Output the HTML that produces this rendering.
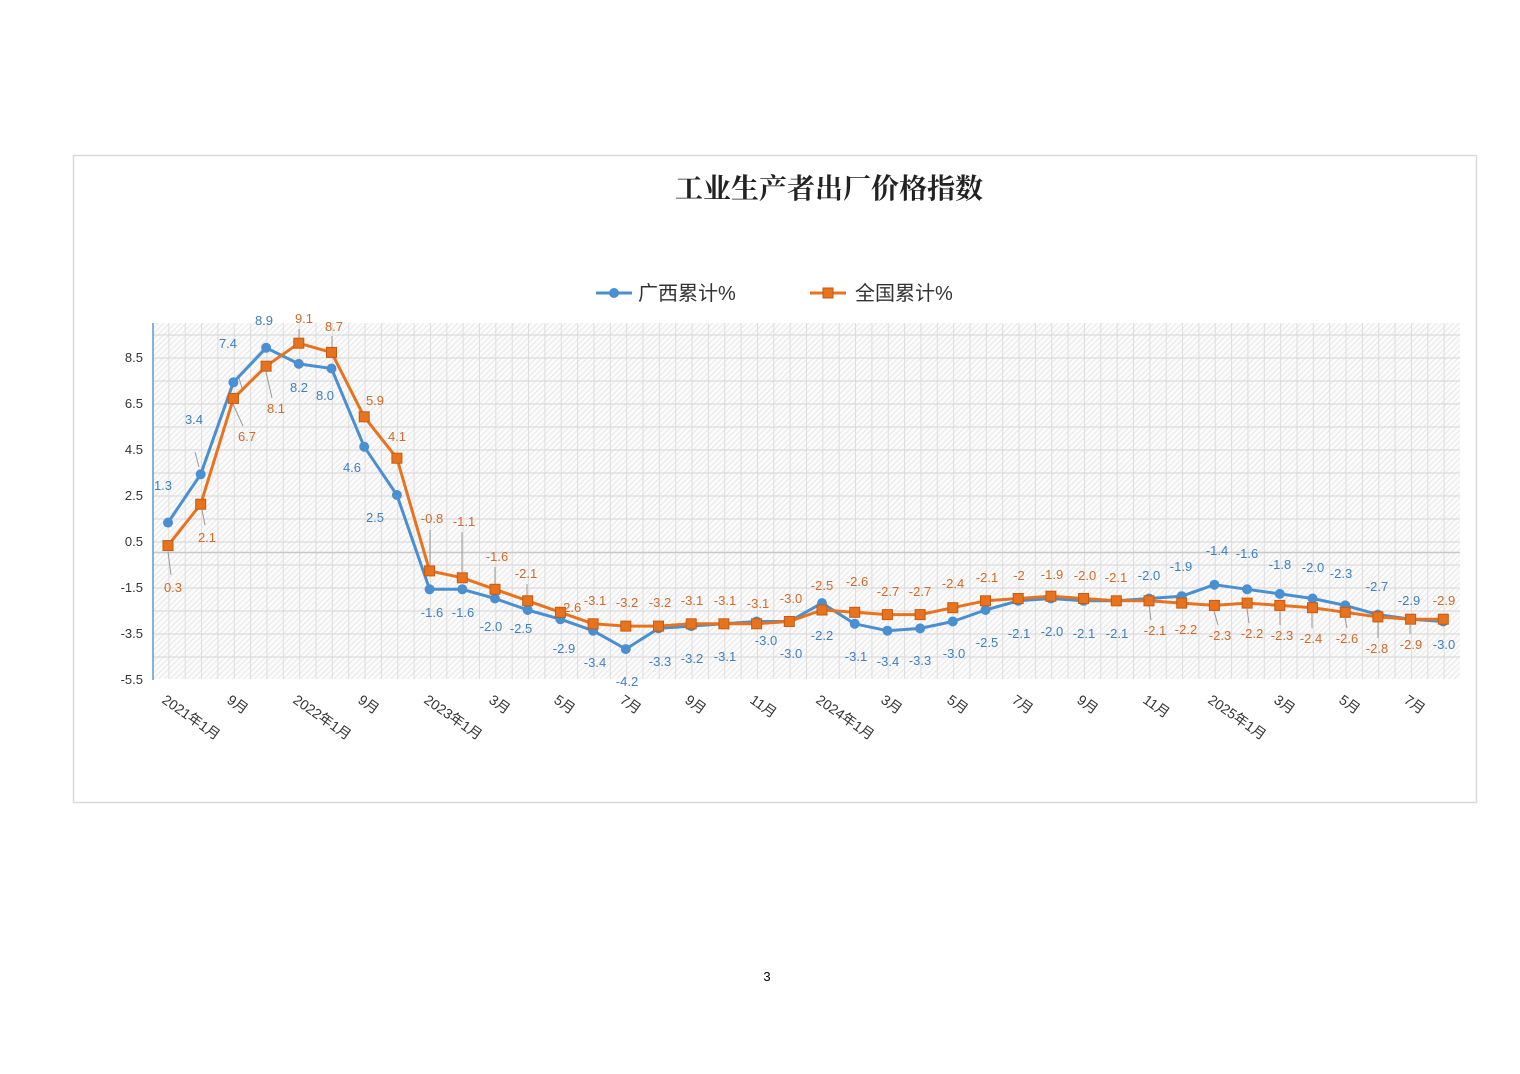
<!DOCTYPE html>
<html><head><meta charset="utf-8"><style>
html,body{margin:0;padding:0;background:#fff;}
svg{display:block;}
</style></head><body>
<svg width="1520" height="1074" viewBox="0 0 1520 1074" xmlns="http://www.w3.org/2000/svg" font-family="'Liberation Sans','Noto Sans CJK SC',sans-serif">
<defs>
<pattern id="h" width="4" height="4" patternUnits="userSpaceOnUse" patternTransform="rotate(45)">
<rect width="4" height="4" fill="#fbfbfb"/><line x1="0" y1="0" x2="0" y2="4" stroke="#dcdcdc" stroke-width="1.2"/>
</pattern>
<pattern id="v" x="152" width="16.35" height="400" patternUnits="userSpaceOnUse">
<line x1="0.5" y1="0" x2="0.5" y2="400" stroke="#dddddd" stroke-width="1"/>
</pattern>
<pattern id="hz" y="311.5" width="100" height="23" patternUnits="userSpaceOnUse">
<line x1="0" y1="0.5" x2="100" y2="0.5" stroke="#d6d6d6" stroke-width="1"/>
</pattern>
</defs>
<rect x="73.5" y="155.5" width="1403" height="647" fill="#fff" stroke="#d9d9d9" stroke-width="1.5"/>
<text x="829" y="198" text-anchor="middle" font-size="28" font-weight="bold" fill="#222" font-family="'Noto Serif CJK SC','Noto Sans CJK SC',serif">工业生产者出厂价格指数</text>
<!-- legend -->
<line x1="596" y1="293" x2="632" y2="293" stroke="#4a8fd0" stroke-width="3"/><circle cx="614" cy="293" r="5" fill="#4a8fd0"/>
<text x="638" y="300" font-size="20" fill="#333">广西累计%</text>
<line x1="810" y1="293" x2="846" y2="293" stroke="#e8731f" stroke-width="3"/><rect x="823" y="288" width="10" height="10" fill="#e8731f" stroke="#c55a11"/>
<text x="855" y="300" font-size="20" fill="#333">全国累计%</text>
<!-- plot area -->
<rect x="153" y="323" width="1307" height="356" fill="url(#h)"/>
<rect x="153" y="323" width="1307" height="356" fill="url(#v)"/>
<rect x="153" y="323" width="1307" height="356" fill="url(#hz)"/>
<line x1="153" y1="552.5" x2="1460" y2="552.5" stroke="#c8c8c8" stroke-width="1.5"/>
<line x1="153" y1="323" x2="153" y2="680" stroke="#5b9bd5" stroke-width="1.5"/>
<g font-size="13" fill="#333" text-anchor="end">
<text x="143" y="362">8.5</text><text x="143" y="408">6.5</text><text x="143" y="454">4.5</text><text x="143" y="500">2.5</text><text x="143" y="546">0.5</text><text x="143" y="592">-1.5</text><text x="143" y="638">-3.5</text><text x="143" y="684">-5.5</text>
</g>
<!-- leader lines -->
<g stroke="#999" stroke-width="1">
<line x1="195" y1="452" x2="199" y2="467"/><line x1="238" y1="375" x2="242" y2="388"/>
<line x1="232" y1="402" x2="243" y2="426"/><line x1="266" y1="372" x2="272" y2="398"/>
<line x1="299" y1="329" x2="299" y2="338"/><line x1="332" y1="336" x2="332" y2="347"/>
<line x1="168" y1="552" x2="171" y2="575"/><line x1="202" y1="510" x2="205" y2="525"/>
<line x1="430" y1="530" x2="430" y2="565"/><line x1="462" y1="532" x2="462" y2="572"/>
<line x1="495" y1="567" x2="495" y2="584"/><line x1="527" y1="584" x2="527" y2="596"/>
<line x1="1149" y1="605" x2="1151" y2="620"/><line x1="1214" y1="611" x2="1218" y2="625"/><line x1="1247" y1="609" x2="1249" y2="623"/><line x1="1280" y1="611" x2="1280" y2="625"/><line x1="1312" y1="613" x2="1312" y2="628"/><line x1="1345" y1="618" x2="1347" y2="628"/><line x1="1378" y1="622" x2="1378" y2="638"/><line x1="1410" y1="625" x2="1410" y2="634"/>
</g>
<!-- Guangxi -->
<polyline fill="none" stroke="#4a8fd0" stroke-width="3" stroke-linejoin="round" points="168,522.6 200.7,474.3 233.4,382.3 266.1,347.8 298.8,363.9 331.5,368.5 364.2,446.7 396.9,495 429.6,589.3 462.3,589.3 495,598.5 527.7,610 560.4,619.2 593.1,630.7 625.8,649.1 658.5,628.4 691.2,626.1 723.9,623.8 756.6,621.5 789.3,621.5 822,603.1 854.7,623.8 887.4,630.7 920.1,628.4 952.8,621.5 985.5,610 1018.2,600.8 1050.9,598.5 1083.6,600.8 1116.3,600.8 1149,598.5 1181.7,596.2 1214.4,584.7 1247.1,589.3 1279.8,593.9 1312.5,598.5 1345.2,605.4 1377.9,614.6 1410.6,619.2 1443.3,621.5"/>
<g fill="#4a8fd0">
<circle cx="168" cy="522.6" r="5"/><circle cx="200.7" cy="474.3" r="5"/><circle cx="233.4" cy="382.3" r="5"/><circle cx="266.1" cy="347.8" r="5"/><circle cx="298.8" cy="363.9" r="5"/><circle cx="331.5" cy="368.5" r="5"/><circle cx="364.2" cy="446.7" r="5"/><circle cx="396.9" cy="495" r="5"/><circle cx="429.6" cy="589.3" r="5"/><circle cx="462.3" cy="589.3" r="5"/><circle cx="495" cy="598.5" r="5"/><circle cx="527.7" cy="610" r="5"/><circle cx="560.4" cy="619.2" r="5"/><circle cx="593.1" cy="630.7" r="5"/><circle cx="625.8" cy="649.1" r="5"/><circle cx="658.5" cy="628.4" r="5"/><circle cx="691.2" cy="626.1" r="5"/><circle cx="723.9" cy="623.8" r="5"/><circle cx="756.6" cy="621.5" r="5"/><circle cx="789.3" cy="621.5" r="5"/><circle cx="822" cy="603.1" r="5"/><circle cx="854.7" cy="623.8" r="5"/><circle cx="887.4" cy="630.7" r="5"/><circle cx="920.1" cy="628.4" r="5"/><circle cx="952.8" cy="621.5" r="5"/><circle cx="985.5" cy="610" r="5"/><circle cx="1018.2" cy="600.8" r="5"/><circle cx="1050.9" cy="598.5" r="5"/><circle cx="1083.6" cy="600.8" r="5"/><circle cx="1116.3" cy="600.8" r="5"/><circle cx="1149" cy="598.5" r="5"/><circle cx="1181.7" cy="596.2" r="5"/><circle cx="1214.4" cy="584.7" r="5"/><circle cx="1247.1" cy="589.3" r="5"/><circle cx="1279.8" cy="593.9" r="5"/><circle cx="1312.5" cy="598.5" r="5"/><circle cx="1345.2" cy="605.4" r="5"/><circle cx="1377.9" cy="614.6" r="5"/><circle cx="1410.6" cy="619.2" r="5"/><circle cx="1443.3" cy="621.5" r="5"/>
</g>
<!-- National -->
<polyline fill="none" stroke="#e8731f" stroke-width="3" stroke-linejoin="round" points="168,545.6 200.7,504.2 233.4,398.4 266.1,366.2 298.8,343.2 331.5,352.4 364.2,416.8 396.9,458.2 429.6,570.9 462.3,577.8 495,589.3 527.7,600.8 560.4,612.3 593.1,623.8 625.8,626.1 658.5,626.1 691.2,623.8 723.9,623.8 756.6,623.8 789.3,621.5 822,610 854.7,612.3 887.4,614.6 920.1,614.6 952.8,607.7 985.5,600.8 1018.2,598.5 1050.9,596.2 1083.6,598.5 1116.3,600.8 1149,600.8 1181.7,603.1 1214.4,605.4 1247.1,603.1 1279.8,605.4 1312.5,607.7 1345.2,612.3 1377.9,616.9 1410.6,619.2 1443.3,619.2"/>
<g fill="#e8731f" stroke="#c55a11" stroke-width="1">
<rect x="163" y="540.6" width="10" height="10"/><rect x="195.7" y="499.2" width="10" height="10"/><rect x="228.4" y="393.4" width="10" height="10"/><rect x="261.1" y="361.2" width="10" height="10"/><rect x="293.8" y="338.2" width="10" height="10"/><rect x="326.5" y="347.4" width="10" height="10"/><rect x="359.2" y="411.8" width="10" height="10"/><rect x="391.9" y="453.2" width="10" height="10"/><rect x="424.6" y="565.9" width="10" height="10"/><rect x="457.3" y="572.8" width="10" height="10"/><rect x="490" y="584.3" width="10" height="10"/><rect x="522.7" y="595.8" width="10" height="10"/><rect x="555.4" y="607.3" width="10" height="10"/><rect x="588.1" y="618.8" width="10" height="10"/><rect x="620.8" y="621.1" width="10" height="10"/><rect x="653.5" y="621.1" width="10" height="10"/><rect x="686.2" y="618.8" width="10" height="10"/><rect x="718.9" y="618.8" width="10" height="10"/><rect x="751.6" y="618.8" width="10" height="10"/><rect x="784.3" y="616.5" width="10" height="10"/><rect x="817" y="605" width="10" height="10"/><rect x="849.7" y="607.3" width="10" height="10"/><rect x="882.4" y="609.6" width="10" height="10"/><rect x="915.1" y="609.6" width="10" height="10"/><rect x="947.8" y="602.7" width="10" height="10"/><rect x="980.5" y="595.8" width="10" height="10"/><rect x="1013.2" y="593.5" width="10" height="10"/><rect x="1045.9" y="591.2" width="10" height="10"/><rect x="1078.6" y="593.5" width="10" height="10"/><rect x="1111.3" y="595.8" width="10" height="10"/><rect x="1144" y="595.8" width="10" height="10"/><rect x="1176.7" y="598.1" width="10" height="10"/><rect x="1209.4" y="600.4" width="10" height="10"/><rect x="1242.1" y="598.1" width="10" height="10"/><rect x="1274.8" y="600.4" width="10" height="10"/><rect x="1307.5" y="602.7" width="10" height="10"/><rect x="1340.2" y="607.3" width="10" height="10"/><rect x="1372.9" y="611.9" width="10" height="10"/><rect x="1405.6" y="614.2" width="10" height="10"/><rect x="1438.3" y="614.2" width="10" height="10"/>
</g>
<!-- Guangxi labels -->
<g font-size="13" fill="#3f7fbf" text-anchor="middle">
<text x="163" y="490">1.3</text><text x="194" y="424">3.4</text><text x="228" y="348">7.4</text><text x="264" y="325">8.9</text><text x="299" y="392">8.2</text><text x="325" y="400">8.0</text><text x="352" y="472">4.6</text><text x="375" y="522">2.5</text>
<text x="432" y="617">-1.6</text><text x="463" y="617">-1.6</text><text x="491" y="631">-2.0</text><text x="521" y="633">-2.5</text><text x="564" y="653">-2.9</text><text x="595" y="667">-3.4</text><text x="627" y="686">-4.2</text><text x="660" y="666">-3.3</text><text x="692" y="663">-3.2</text><text x="725" y="661">-3.1</text><text x="766" y="645">-3.0</text><text x="791" y="658">-3.0</text>
<text x="822" y="640">-2.2</text><text x="856" y="661">-3.1</text><text x="888" y="666">-3.4</text><text x="920" y="665">-3.3</text><text x="954" y="658">-3.0</text><text x="987" y="647">-2.5</text><text x="1019" y="638">-2.1</text><text x="1052" y="636">-2.0</text><text x="1084" y="638">-2.1</text><text x="1117" y="638">-2.1</text>
<text x="1149" y="580">-2.0</text><text x="1181" y="571">-1.9</text><text x="1217" y="555">-1.4</text><text x="1247" y="558">-1.6</text><text x="1280" y="569">-1.8</text><text x="1313" y="572">-2.0</text><text x="1341" y="578">-2.3</text><text x="1377" y="591">-2.7</text><text x="1409" y="605">-2.9</text><text x="1444" y="649">-3.0</text>
</g>
<!-- National labels -->
<g font-size="13" fill="#d0692a" text-anchor="middle">
<text x="173" y="592">0.3</text><text x="207" y="542">2.1</text><text x="247" y="441">6.7</text><text x="276" y="413">8.1</text><text x="304" y="323">9.1</text><text x="334" y="331">8.7</text><text x="375" y="405">5.9</text><text x="397" y="441">4.1</text>
<text x="432" y="523">-0.8</text><text x="464" y="526">-1.1</text><text x="497" y="561">-1.6</text><text x="526" y="578">-2.1</text><text x="570" y="612">-2.6</text><text x="595" y="605">-3.1</text><text x="627" y="607">-3.2</text><text x="660" y="607">-3.2</text><text x="692" y="605">-3.1</text><text x="725" y="605">-3.1</text><text x="758" y="608">-3.1</text><text x="791" y="603">-3.0</text>
<text x="822" y="590">-2.5</text><text x="857" y="586">-2.6</text><text x="888" y="596">-2.7</text><text x="920" y="596">-2.7</text><text x="953" y="588">-2.4</text><text x="987" y="582">-2.1</text><text x="1019" y="580">-2</text><text x="1052" y="579">-1.9</text><text x="1085" y="580">-2.0</text><text x="1116" y="582">-2.1</text>
<text x="1155" y="635">-2.1</text><text x="1186" y="634">-2.2</text><text x="1220" y="640">-2.3</text><text x="1252" y="638">-2.2</text><text x="1282" y="640">-2.3</text><text x="1311" y="643">-2.4</text><text x="1347" y="643">-2.6</text><text x="1377" y="653">-2.8</text><text x="1411" y="649">-2.9</text><text x="1444" y="605">-2.9</text>
</g>
<!-- x labels -->
<g font-size="14" fill="#333">
<text transform="translate(161,702) rotate(35)">2021年1月</text>
<text transform="translate(226,702) rotate(35)">9月</text>
<text transform="translate(292,702) rotate(35)">2022年1月</text>
<text transform="translate(357,702) rotate(35)">9月</text>
<text transform="translate(423,702) rotate(35)">2023年1月</text>
<text transform="translate(488,702) rotate(35)">3月</text>
<text transform="translate(553,702) rotate(35)">5月</text>
<text transform="translate(619,702) rotate(35)">7月</text>
<text transform="translate(684,702) rotate(35)">9月</text>
<text transform="translate(749,702) rotate(35)">11月</text>
<text transform="translate(815,702) rotate(35)">2024年1月</text>
<text transform="translate(880,702) rotate(35)">3月</text>
<text transform="translate(946,702) rotate(35)">5月</text>
<text transform="translate(1011,702) rotate(35)">7月</text>
<text transform="translate(1076,702) rotate(35)">9月</text>
<text transform="translate(1142,702) rotate(35)">11月</text>
<text transform="translate(1207,702) rotate(35)">2025年1月</text>
<text transform="translate(1273,702) rotate(35)">3月</text>
<text transform="translate(1338,702) rotate(35)">5月</text>
<text transform="translate(1403,702) rotate(35)">7月</text>
</g>
<text x="767" y="981" font-size="13" text-anchor="middle" fill="#000">3</text>
</svg>
</body></html>
